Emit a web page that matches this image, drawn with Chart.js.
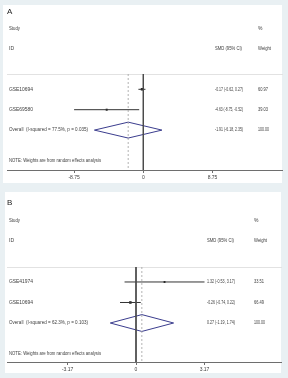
<!DOCTYPE html>
<html><head><meta charset="utf-8">
<script src="https://cdn.jsdelivr.net/npm/chart.js@4.4.1/dist/chart.umd.min.js"></script>
<style>
html,body{margin:0;padding:0;background:#e9f0f3;width:288px;height:378px;overflow:hidden}
canvas{position:absolute;left:0;display:block}
#a{top:0}#b{top:188px}
</style></head><body>
<canvas id="a" width="288" height="188"></canvas>
<canvas id="b" width="288" height="190"></canvas>
<script>
// Panel A data
const studiesA = ['GSE10694', 'GSE69580'];
const smdA = [-0.17, -4.63];
const lowA = [-0.62, -8.75];
const highA = [0.27, -0.52];
const weightA = [60.97, 39.03];
const overallA = [-1.91, -6.18, 2.35];   // estimate, lower, upper
const hetA = ['77.5%', '0.035'];        // I-squared, p
const ticksA = [-8.75, 0, 8.75];

// Panel B data
const studiesB = ['GSE41974', 'GSE10694'];
const smdB = [1.32, -0.26];
const lowB = [-0.53, -0.74];
const highB = [3.17, 0.22];
const weightB = [33.51, 66.49];
const overallB = [0.27, -1.19, 1.74];
const hetB = ['62.3%', '0.103'];
const ticksB = [-3.17, 0, 3.17];

const FONT = '"Liberation Sans", Arial, sans-serif';
const TXT = '#3c3c3c';
const f2 = v => v.toFixed(2);

function forest(id, d, L) {
  const n = d.studies.length;
  const rows = d.studies.map((_, i) => i + 1);
  const oRow = n + 1;
  const noteRow = n + 2.5;
  const ds = [];
  ds.push({data: [{x: 0, y: L.ymin}, {x: 0, y: L.ymax}], showLine: true, borderColor: '#4a4a4a', borderWidth: 1, pointRadius: 0});
  ds.push({data: [{x: d.overall[0], y: L.ymin}, {x: d.overall[0], y: L.ymax}], showLine: true, borderColor: '#a0a0a0', borderWidth: 0.8, borderDash: [2, 2], pointRadius: 0});
  rows.forEach((r, i) => {
    ds.push({data: [{x: d.low[i], y: r}, {x: d.high[i], y: r}], showLine: true, borderColor: '#333', borderWidth: 1, pointRadius: 0});
  });
  ds.push({data: rows.map((r, i) => ({x: d.smd[i], y: r})), showLine: false, pointStyle: 'rect',
    pointRadius: d.weight.map(w => 0.9 + w / 80), backgroundColor: '#111', borderColor: '#111', borderWidth: 0});
  const h = L.dh;
  ds.push({data: [{x: d.overall[1], y: oRow}, {x: d.overall[0], y: oRow - h}, {x: d.overall[2], y: oRow}, {x: d.overall[0], y: oRow + h}, {x: d.overall[1], y: oRow}],
    showLine: true, borderColor: '#3b3d8e', borderWidth: 1, pointRadius: 0, fill: false, tension: 0});

  const textPlugin = {
    id: 'txt' + id,
    beforeDraw(c) {
      const ctx = c.ctx;
      ctx.save();
      ctx.fillStyle = '#ffffff';
      ctx.fillRect(L.white[0], L.white[1], L.white[2], L.white[3]);
      ctx.strokeStyle = '#e2e2e2';
      ctx.lineWidth = 1;
      ctx.beginPath();
      ctx.moveTo(c.chartArea.left, c.chartArea.top + 0.5);
      ctx.lineTo(c.chartArea.right + 1, c.chartArea.top + 0.5);
      ctx.stroke();
      ctx.restore();
    },
    afterDraw(c) {
      const ctx = c.ctx;
      const y = c.scales.y;
      ctx.save();
      ctx.fillStyle = '#222';
      ctx.textBaseline = 'middle';
      ctx.textAlign = 'left';
      ctx.font = '8px ' + FONT;
      ctx.fillText(L.panel, L.panelX, L.panelY);
      ctx.fillStyle = TXT;
      ctx.font = '5px ' + FONT;
      ctx.fillText('Study', L.colId, L.h1, 11);
      ctx.fillText('%', L.colW, L.h1);
      ctx.fillText('ID', L.colId, L.h2);
      ctx.fillText('SMD (95% CI)', L.colEs, L.h2, 27);
      ctx.fillText('Weight', L.colW, L.h2, 13);
      rows.forEach((r, i) => {
        const py = y.getPixelForValue(r);
        ctx.fillText(d.studies[i], L.colId, py, 24);
        ctx.fillText(f2(d.smd[i]) + ' (' + f2(d.low[i]) + ', ' + f2(d.high[i]) + ')', L.colEs, py, 28);
        ctx.fillText(f2(d.weight[i]), L.colW, py, 10);
      });
      const po = y.getPixelForValue(oRow);
      ctx.fillText('Overall  (I-squared = ' + d.het[0] + ', p = ' + d.het[1] + ')', L.colId, po, 79);
      ctx.fillText(f2(d.overall[0]) + ' (' + f2(d.overall[1]) + ', ' + f2(d.overall[2]) + ')', L.colEs, po, 28);
      ctx.fillText(f2(100), L.colW, po, 11);
      ctx.fillText('NOTE: Weights are from random effects analysis', L.colId, y.getPixelForValue(noteRow), 92);
      ctx.restore();
    }
  };

  return new Chart(document.getElementById(id), {
    type: 'scatter',
    data: {datasets: ds},
    options: {
      responsive: false, animation: false, devicePixelRatio: 1,
      layout: {padding: {left: L.left, right: L.right, top: L.top, bottom: 0}},
      plugins: {legend: {display: false}, tooltip: {enabled: false}},
      scales: {
        x: {
          type: 'linear', min: L.xmin, max: L.xmax,
          afterBuildTicks: s => { s.ticks = d.ticks.map(v => ({value: v})); },
          afterFit: s => { s.height = L.bottom; },
          ticks: {font: {size: 5, family: FONT}, color: TXT, padding: 2, callback: v => String(v), maxRotation: 0, autoSkip: false},
          grid: {drawOnChartArea: false, drawTicks: true, tickLength: 3, color: '#6e6e6e', lineWidth: 1},
          border: {display: true, color: '#6e6e6e', width: 1}
        },
        y: {type: 'linear', display: false, reverse: true, min: L.ymin, max: L.ymax}
      }
    },
    plugins: [textPlugin]
  });
}

forest('a', {studies: studiesA, smd: smdA, low: lowA, high: highA, weight: weightA, overall: overallA, het: hetA, ticks: ticksA}, {
  white: [3, 5, 279, 178], panel: 'A', panelX: 7, panelY: 12,
  colId: 9, colEs: 215, colW: 258, h1: 29, h2: 49,
  left: 7, right: 6, top: 74, bottom: 18,
  xmin: -17.23, xmax: 17.53, ymin: 0.25, ymax: 4.956, dh: 0.39
});
forest('b', {studies: studiesB, smd: smdB, low: lowB, high: highB, weight: weightB, overall: overallB, het: hetB, ticks: ticksB}, {
  white: [5, 4, 276, 181], panel: 'B', panelX: 7, panelY: 15,
  colId: 9, colEs: 207, colW: 254, h1: 33, h2: 53,
  left: 7, right: 7, top: 79, bottom: 16,
  xmin: -5.97, xmax: 6.71, ymin: 0.27, ymax: 4.9, dh: 0.41
});
</script>
</body></html>
